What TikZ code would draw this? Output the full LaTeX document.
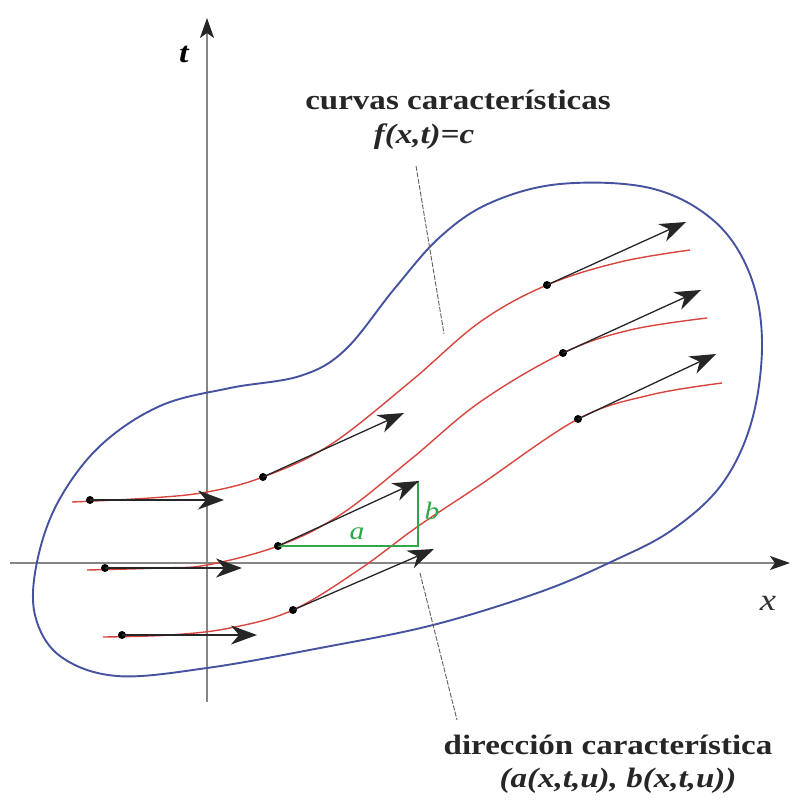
\documentclass[tikz,border=0pt]{standalone}
\usepackage{fontspec}
\setmainfont{Liberation Serif}[FakeStretch=1.18]
\usetikzlibrary{arrows.meta}
\definecolor{axisgray}{HTML}{858585}
\definecolor{blobblue}{HTML}{4552A0}
\definecolor{charred}{HTML}{D8453F}
\definecolor{dirgreen}{HTML}{2FA84A}
\definecolor{leadergray}{HTML}{606060}
\begin{document}
\begin{tikzpicture}[x=1pt,y=-1pt,
  axisline/.style={draw=axisgray, line width=1.8pt, -{Stealth[length=20pt,width=14pt,inset=5pt,color=black!85,fill=black!85]}},
  blob/.style={draw=blobblue, line width=1.9pt},
  charcurve/.style={draw=charred, line width=1.4pt},
  vec/.style={draw=black!85, line width=1.3pt, -{Stealth[length=26pt,width=19pt,inset=8pt]}},
  dot/.style={circle, fill=black, inner sep=0pt, minimum size=8pt},
  tri/.style={draw=dirgreen, line width=1.6pt},
  leader/.style={draw=leadergray, line width=0.9pt, dash pattern=on 5pt off 1.5pt},
  lbl/.style={font=\bfseries\fontsize{28}{32}\selectfont, text=black!85, inner sep=0pt},
  lblit/.style={font=\bfseries\itshape\fontsize{28}{32}\selectfont, text=black!85, inner sep=0pt}
]
\useasboundingbox (0,0) rectangle (792,804);

% axes
\coordinate (tbot) at (207,702);
\coordinate (ttop) at (207,18);
\coordinate (xleft) at (10,563);
\coordinate (xright) at (790,563);
\draw[axisline] (tbot) -- (ttop);
\draw[axisline] (xleft) -- (xright);
\node[font=\bfseries\itshape\fontsize{29}{30}\selectfont, inner sep=0pt] (tlab) at (184,54) {t};
\node[font=\itshape\fontsize{31}{30}\selectfont, text=black!80, inner sep=0pt] (xlab) at (768,603) {x};

% blue region
\draw[blob] plot[smooth cycle, tension=0.6] coordinates {
 (37,562) (58,502) (100,446) (160,406) (230,388) (300,376) (345,350)
 (395,288) (440,237) (490,203) (560,184) (650,188) (713,220) (749,272)
 (762,340) (752,420) (722,484) (672,530) (613,561) (540,592) (433,625)
 (320,648) (207,668) (117,676) (60,656) (35,615)};

% red characteristic curves
\draw[charcurve] plot[smooth, tension=0.6] coordinates {
 (72,502) (150,498) (207,492) (263,477) (330,445) (410,382) (480,322) (547,285) (620,262) (690,250)};
\draw[charcurve] plot[smooth, tension=0.6] coordinates {
 (87,570) (160,568) (207,565) (278,546) (340,515) (410,460) (480,402) (563,353) (630,330) (707,318)};
\draw[charcurve] plot[smooth, tension=0.6] coordinates {
 (103,637) (170,635) (230,628) (293,610) (360,569) (417,527) (480,485) (578,419) (650,395) (722,383)};

% green direction triangle
\coordinate (corner) at (418,546);
\coordinate (tipb) at (418,481);

% dots
\node[dot] (d11) at (90,500) {};
\node[dot] (d21) at (105,568) {};
\node[dot] (d31) at (122,635) {};
\node[dot] (d12) at (263,477) {};
\node[dot] (d22) at (278,546) {};
\node[dot] (d32) at (293,610) {};
\node[dot] (d13) at (547,285) {};
\node[dot] (d23) at (563,353) {};
\node[dot] (d33) at (578,419) {};

\draw[tri] (d22.center) -- (corner) -- (tipb);
\node[text=dirgreen, font=\itshape\fontsize{25}{25}\selectfont, inner sep=0pt] (alab) at (357,534) {a};
\node[text=dirgreen, font=\itshape\fontsize{25}{25}\selectfont, inner sep=0pt] (blab) at (432,511) {b};

% arrow ends
\coordinate (e11) at (224,500);
\coordinate (e21) at (242,568);
\coordinate (e31) at (257,635);
\coordinate (e12) at (404,413);
\coordinate (e22) at (419,481);
\coordinate (e32) at (434,549);
\coordinate (e13) at (686,222);
\coordinate (e23) at (701,290);
\coordinate (e33) at (716,354);

\draw[vec] (d11.center) -- (e11);
\draw[vec] (d21.center) -- (e21);
\draw[vec] (d31.center) -- (e31);
\draw[vec] (d12.center) -- (e12);
\draw[vec] (d22.center) -- (e22);
\draw[vec] (d32.center) -- (e32);
\draw[vec] (d13.center) -- (e13);
\draw[vec] (d23.center) -- (e23);
\draw[vec] (d33.center) -- (e33);

% labels
\node[lbl] (curvas) at (458,100) {curvas características};
\node[lblit] (fxt) at (424,137) {f(x,t)=c};
\node[lbl] (direc) at (608,745) {dirección característica};
\node[lblit] (abxt) at (618,781) {(a(x,t,u), b(x,t,u))};

% leader lines
\coordinate (l1a) at (416,166);
\coordinate (l1b) at (444,334);
\coordinate (l2a) at (420,573);
\coordinate (l2b) at (457,720);
\draw[leader] (l1a) -- (l1b);
\draw[leader] (l2a) -- (l2b);
\end{tikzpicture}
\end{document}
